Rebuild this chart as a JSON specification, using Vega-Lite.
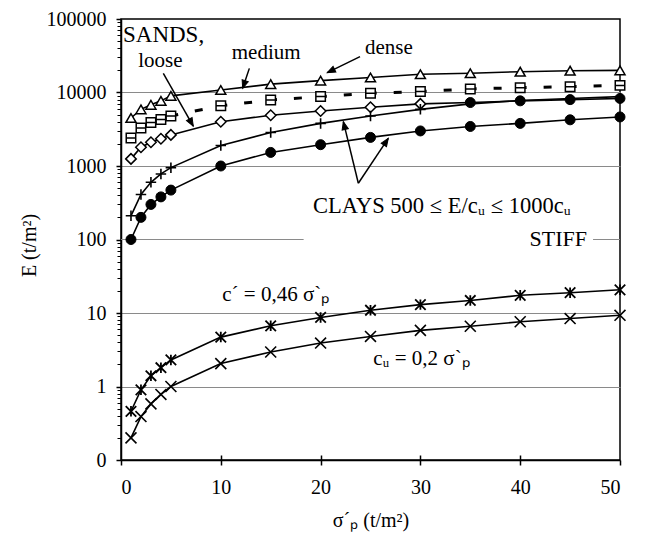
{
  "$schema": "https://vega.github.io/schema/vega-lite/v6.json",
  "width": 499,
  "height": 441,
  "autosize": {"type": "none"},
  "padding": {"left": 121, "top": 19, "right": 26, "bottom": 77},
  "background": "white",
  "config": {
    "view": {"stroke": "black", "strokeWidth": 1.5},
    "font": "Liberation Serif",
    "axis": {"labelFont": "Liberation Serif", "titleFont": "Liberation Serif", "labelColor": "black", "titleColor": "black", "titleFontWeight": "normal", "domainColor": "black", "tickColor": "black"}
  },
  "datasets": {
    "curves": [
      {"s": 1, "E": 4500, "series": "dense"}, {"s": 2, "E": 5900, "series": "dense"}, {"s": 3, "E": 6800, "series": "dense"}, {"s": 4, "E": 7700, "series": "dense"}, {"s": 5, "E": 9000, "series": "dense"}, {"s": 10, "E": 10800, "series": "dense"}, {"s": 15, "E": 13000, "series": "dense"}, {"s": 20, "E": 14500, "series": "dense"}, {"s": 25, "E": 16000, "series": "dense"}, {"s": 30, "E": 17700, "series": "dense"}, {"s": 35, "E": 18300, "series": "dense"}, {"s": 40, "E": 19200, "series": "dense"}, {"s": 45, "E": 19800, "series": "dense"}, {"s": 50, "E": 20000, "series": "dense"},
      {"s": 1, "E": 2400, "series": "medium"}, {"s": 2, "E": 3300, "series": "medium"}, {"s": 3, "E": 3900, "series": "medium"}, {"s": 4, "E": 4300, "series": "medium"}, {"s": 5, "E": 4800, "series": "medium"}, {"s": 10, "E": 6600, "series": "medium"}, {"s": 15, "E": 7900, "series": "medium"}, {"s": 20, "E": 8800, "series": "medium"}, {"s": 25, "E": 9800, "series": "medium"}, {"s": 30, "E": 10300, "series": "medium"}, {"s": 35, "E": 11200, "series": "medium"}, {"s": 40, "E": 11600, "series": "medium"}, {"s": 45, "E": 12000, "series": "medium"}, {"s": 50, "E": 12500, "series": "medium"},
      {"s": 1, "E": 1250, "series": "loose"}, {"s": 2, "E": 1800, "series": "loose"}, {"s": 3, "E": 2100, "series": "loose"}, {"s": 4, "E": 2350, "series": "loose"}, {"s": 5, "E": 2650, "series": "loose"}, {"s": 10, "E": 4000, "series": "loose"}, {"s": 15, "E": 4900, "series": "loose"}, {"s": 20, "E": 5600, "series": "loose"}, {"s": 25, "E": 6300, "series": "loose"}, {"s": 30, "E": 7000, "series": "loose"}, {"s": 35, "E": 7300, "series": "loose"}, {"s": 40, "E": 7700, "series": "loose"}, {"s": 45, "E": 8000, "series": "loose"}, {"s": 50, "E": 8300, "series": "loose"},
      {"s": 1, "E": 210, "series": "clay1000"}, {"s": 2, "E": 410, "series": "clay1000"}, {"s": 3, "E": 600, "series": "clay1000"}, {"s": 4, "E": 780, "series": "clay1000"}, {"s": 5, "E": 950, "series": "clay1000"}, {"s": 10, "E": 1900, "series": "clay1000"}, {"s": 15, "E": 2850, "series": "clay1000"}, {"s": 20, "E": 3800, "series": "clay1000"}, {"s": 25, "E": 4800, "series": "clay1000"}, {"s": 30, "E": 5900, "series": "clay1000"}, {"s": 35, "E": 7000, "series": "clay1000"}, {"s": 40, "E": 7800, "series": "clay1000"}, {"s": 45, "E": 8300, "series": "clay1000"}, {"s": 50, "E": 8800, "series": "clay1000"},
      {"s": 1, "E": 100, "series": "clay500"}, {"s": 2, "E": 200, "series": "clay500"}, {"s": 3, "E": 300, "series": "clay500"}, {"s": 4, "E": 380, "series": "clay500"}, {"s": 5, "E": 470, "series": "clay500"}, {"s": 10, "E": 1000, "series": "clay500"}, {"s": 15, "E": 1530, "series": "clay500"}, {"s": 20, "E": 1950, "series": "clay500"}, {"s": 25, "E": 2450, "series": "clay500"}, {"s": 30, "E": 3000, "series": "clay500"}, {"s": 35, "E": 3450, "series": "clay500"}, {"s": 40, "E": 3800, "series": "clay500"}, {"s": 45, "E": 4250, "series": "clay500"}, {"s": 50, "E": 4650, "series": "clay500"},
      {"s": 1, "E": 0.46, "series": "cprime"}, {"s": 2, "E": 0.9, "series": "cprime"}, {"s": 3, "E": 1.4, "series": "cprime"}, {"s": 4, "E": 1.8, "series": "cprime"}, {"s": 5, "E": 2.3, "series": "cprime"}, {"s": 10, "E": 4.7, "series": "cprime"}, {"s": 15, "E": 6.7, "series": "cprime"}, {"s": 20, "E": 8.7, "series": "cprime"}, {"s": 25, "E": 10.9, "series": "cprime"}, {"s": 30, "E": 13, "series": "cprime"}, {"s": 35, "E": 14.8, "series": "cprime"}, {"s": 40, "E": 17.4, "series": "cprime"}, {"s": 45, "E": 18.9, "series": "cprime"}, {"s": 50, "E": 20.7, "series": "cprime"},
      {"s": 1, "E": 0.2, "series": "cu"}, {"s": 2, "E": 0.39, "series": "cu"}, {"s": 3, "E": 0.58, "series": "cu"}, {"s": 4, "E": 0.78, "series": "cu"}, {"s": 5, "E": 1.0, "series": "cu"}, {"s": 10, "E": 2.05, "series": "cu"}, {"s": 15, "E": 2.95, "series": "cu"}, {"s": 20, "E": 3.9, "series": "cu"}, {"s": 25, "E": 4.8, "series": "cu"}, {"s": 30, "E": 5.8, "series": "cu"}, {"s": 35, "E": 6.6, "series": "cu"}, {"s": 40, "E": 7.6, "series": "cu"}, {"s": 45, "E": 8.4, "series": "cu"}, {"s": 50, "E": 9.3, "series": "cu"}
    ],
    "grid100": [{"s": 0, "s2": 18.3, "E": 100}, {"s": 47.3, "s2": 50, "E": 100}],
    "labels": [
      {"s": 0.2, "E": 49000, "text": "SANDS,"},
      {"s": 1.73, "E": 22000, "text": "loose"},
      {"s": 11.1, "E": 29000, "text": "medium"},
      {"s": 24.45, "E": 33000, "text": "dense"},
      {"s": 19.24, "E": 227, "text": "CLAYS 500  ≤ E/cᵤ ≤ 1000cᵤ"},
      {"s": 10.15, "E": 14.7, "text": "c´ = 0,46 σ`ₚ"},
      {"s": 25.28, "E": 1.96, "text": "cᵤ = 0,2 σ`ₚ"}
    ],
    "labelsRight": [{"s": 46.7, "E": 81.7, "text": "STIFF"}],
    "arrows": [
      {"s": 4.24, "E": 18200, "s2": 7.24, "E2": 3500},
      {"s": 12.86, "E": 21300, "s2": 12.19, "E2": 11400},
      {"s": 23.95, "E": 30700, "s2": 20.67, "E2": 18600},
      {"s": 23.78, "E": 582, "s2": 22.28, "E2": 4010},
      {"s": 23.78, "E": 582, "s2": 26.78, "E2": 2380}
    ]
  },
  "layer": [
    {
      "layer": [
        {
          "data": {"name": "grid100"},
          "mark": {"type": "rule", "color": "#8a8a8a", "strokeWidth": 1},
          "encoding": {
            "x": {"field": "s", "type": "quantitative", "scale": {"domain": [0, 50], "nice": false, "zero": false},
              "axis": {"values": [0, 10, 20, 30, 40, 50], "title": "σ´ₚ (t/m²)", "tickSize": 5, "tickWidth": 1.5, "domainWidth": 1.5, "labelPadding": 12, "labelFontSize": 20, "titleFontSize": 20, "grid": false, "titleY": 60, "titleBaseline": "middle"}},
            "x2": {"field": "s2"},
            "y": {"field": "E", "type": "quantitative", "scale": {"type": "log", "domain": [0.1, 100000], "nice": false},
              "axis": {"values": [0.1, 1, 10, 100, 1000, 10000, 100000], "labelExpr": "datum.value < 0.5 ? '0' : format(datum.value, 'd')", "title": "E (t/m²)", "tickSize": 5, "tickWidth": 1.5, "domainWidth": 1.5, "labelPadding": 10, "labelFontSize": 20, "titleFontSize": 20, "grid": true, "gridWidth": 1,
                "gridColor": {"condition": {"test": "datum.value == 100 || datum.value < 0.5 || datum.value > 50000", "value": "rgba(0,0,0,0)"}, "value": "#8a8a8a"},
                "titleX": -92, "titleY": 226, "titleBaseline": "middle", "titleAngle": -90}}
          }
        },
        {
          "data": {"name": "curves"},
          "transform": [{"filter": "datum.series != 'medium'"}],
          "mark": {"type": "line", "color": "black", "strokeWidth": 1.6},
          "encoding": {"x": {"field": "s", "type": "quantitative"}, "y": {"field": "E", "type": "quantitative"}, "detail": {"field": "series"}}
        },
        {
          "data": {"name": "curves"},
          "transform": [{"filter": "datum.series == 'medium'"}],
          "mark": {"type": "line", "color": "black", "strokeWidth": 3, "strokeDash": [8, 17], "strokeDashOffset": 4},
          "encoding": {"x": {"field": "s", "type": "quantitative"}, "y": {"field": "E", "type": "quantitative"}}
        },
        {
          "data": {"name": "curves"},
          "transform": [{"filter": "datum.series == 'dense'"}],
          "mark": {"type": "point", "shape": "triangle-up", "filled": true, "fill": "white", "stroke": "black", "strokeWidth": 1.5, "size": 100, "opacity": 1},
          "encoding": {"x": {"field": "s", "type": "quantitative"}, "y": {"field": "E", "type": "quantitative"}}
        },
        {
          "data": {"name": "curves"},
          "transform": [{"filter": "datum.series == 'medium'"}],
          "mark": {"type": "point", "shape": "M-1,-1H1V1H-1ZM-1,0H1", "filled": true, "fill": "white", "stroke": "black", "strokeWidth": 1.5, "size": 90, "opacity": 1},
          "encoding": {"x": {"field": "s", "type": "quantitative"}, "y": {"field": "E", "type": "quantitative"}}
        },
        {
          "data": {"name": "curves"},
          "transform": [{"filter": "datum.series == 'loose' && datum.s <= 30"}],
          "mark": {"type": "point", "shape": "diamond", "filled": true, "fill": "white", "stroke": "black", "strokeWidth": 1.5, "size": 110, "opacity": 1},
          "encoding": {"x": {"field": "s", "type": "quantitative"}, "y": {"field": "E", "type": "quantitative"}}
        },
        {
          "data": {"name": "curves"},
          "transform": [{"filter": "datum.series == 'clay500' || (datum.series == 'loose' && datum.s >= 35)"}],
          "mark": {"type": "point", "shape": "circle", "filled": true, "fill": "black", "stroke": "black", "strokeWidth": 1, "size": 100, "opacity": 1},
          "encoding": {"x": {"field": "s", "type": "quantitative"}, "y": {"field": "E", "type": "quantitative"}}
        },
        {
          "data": {"name": "curves"},
          "transform": [{"filter": "datum.series == 'clay1000' && datum.s <= 30"}],
          "mark": {"type": "point", "shape": "M-1,0H1M0,-1V1", "filled": false, "stroke": "black", "strokeWidth": 1.6, "size": 110, "opacity": 1},
          "encoding": {"x": {"field": "s", "type": "quantitative"}, "y": {"field": "E", "type": "quantitative"}}
        },
        {
          "data": {"name": "curves"},
          "transform": [{"filter": "datum.series == 'cprime'"}],
          "mark": {"type": "point", "shape": "M-1,-1L1,1M-1,1L1,-1M0,-1V1", "filled": false, "stroke": "black", "strokeWidth": 1.8, "size": 110, "opacity": 1},
          "encoding": {"x": {"field": "s", "type": "quantitative"}, "y": {"field": "E", "type": "quantitative"}}
        },
        {
          "data": {"name": "curves"},
          "transform": [{"filter": "datum.series == 'cu'"}],
          "mark": {"type": "point", "shape": "M-1,-1L1,1M-1,1L1,-1", "filled": false, "stroke": "black", "strokeWidth": 1.6, "size": 120, "opacity": 1},
          "encoding": {"x": {"field": "s", "type": "quantitative"}, "y": {"field": "E", "type": "quantitative"}}
        },
        {
          "data": {"name": "labels"},
          "transform": [{"filter": "datum.text != 'SANDS,' && indexof(datum.text, 'CLAYS') < 0"}],
          "mark": {"type": "text", "align": "left", "baseline": "alphabetic", "fontSize": 21, "font": "Liberation Serif", "color": "black"},
          "encoding": {"x": {"field": "s", "type": "quantitative"}, "y": {"field": "E", "type": "quantitative"}, "text": {"field": "text"}}
        },
        {
          "data": {"name": "labels"},
          "transform": [{"filter": "datum.text == 'SANDS,'"}],
          "mark": {"type": "text", "align": "left", "baseline": "alphabetic", "fontSize": 23, "font": "Liberation Serif", "color": "black"},
          "encoding": {"x": {"field": "s", "type": "quantitative"}, "y": {"field": "E", "type": "quantitative"}, "text": {"field": "text"}}
        },
        {
          "data": {"name": "labels"},
          "transform": [{"filter": "indexof(datum.text, 'CLAYS') >= 0"}],
          "mark": {"type": "text", "align": "left", "baseline": "alphabetic", "fontSize": 22.5, "font": "Liberation Serif", "color": "black"},
          "encoding": {"x": {"field": "s", "type": "quantitative"}, "y": {"field": "E", "type": "quantitative"}, "text": {"field": "text"}}
        },
        {
          "data": {"name": "labelsRight"},
          "mark": {"type": "text", "align": "right", "baseline": "alphabetic", "fontSize": 22, "font": "Liberation Serif", "color": "black"},
          "encoding": {"x": {"field": "s", "type": "quantitative"}, "y": {"field": "E", "type": "quantitative"}, "text": {"field": "text"}}
        },
        {
          "data": {"name": "arrows"},
          "mark": {"type": "rule", "color": "black", "strokeWidth": 1.5},
          "encoding": {"x": {"field": "s", "type": "quantitative"}, "y": {"field": "E", "type": "quantitative"}, "x2": {"field": "s2"}, "y2": {"field": "E2"}}
        },
        {
          "data": {"name": "arrows"},
          "transform": [{"calculate": "atan2((datum.s2 - datum.s) * 9.98, (log(datum.E2) - log(datum.E)) / LN10 * 73.5) * 180 / PI", "as": "ang"}],
          "mark": {"type": "point", "shape": "M0,0L0.4,1L-0.4,1Z", "filled": true, "fill": "black", "stroke": "black", "strokeWidth": 1, "size": 256, "opacity": 1},
          "encoding": {"x": {"field": "s2", "type": "quantitative"}, "y": {"field": "E2", "type": "quantitative"}, "angle": {"field": "ang", "type": "quantitative", "scale": null}}
        }
      ]
    },
    {
      "data": {"name": "grid100"},
      "mark": {"type": "rule", "opacity": 0},
      "encoding": {
        "x": {"field": "s", "type": "quantitative", "axis": {"orient": "top", "offset": -441, "values": [10, 20, 30, 40], "labels": false, "domain": false, "grid": false, "ticks": true, "tickSize": 5, "tickWidth": 1.5, "title": null}},
        "x2": {"field": "s2"},
        "y": {"field": "E", "type": "quantitative", "axis": {"orient": "left", "values": [0.2, 0.3, 0.4, 0.5, 0.6, 0.7, 0.8, 0.9, 2, 3, 4, 5, 6, 7, 8, 9, 20, 30, 40, 50, 60, 70, 80, 90, 200, 300, 400, 500, 600, 700, 800, 900, 2000, 3000, 4000, 5000, 6000, 7000, 8000, 9000, 20000, 30000, 40000, 50000, 60000, 70000, 80000, 90000], "labels": false, "domain": false, "grid": false, "tickSize": 4, "tickWidth": 1, "title": null}}
      }
    }
  ],
  "resolve": {"axis": {"x": "independent", "y": "independent"}}
}
